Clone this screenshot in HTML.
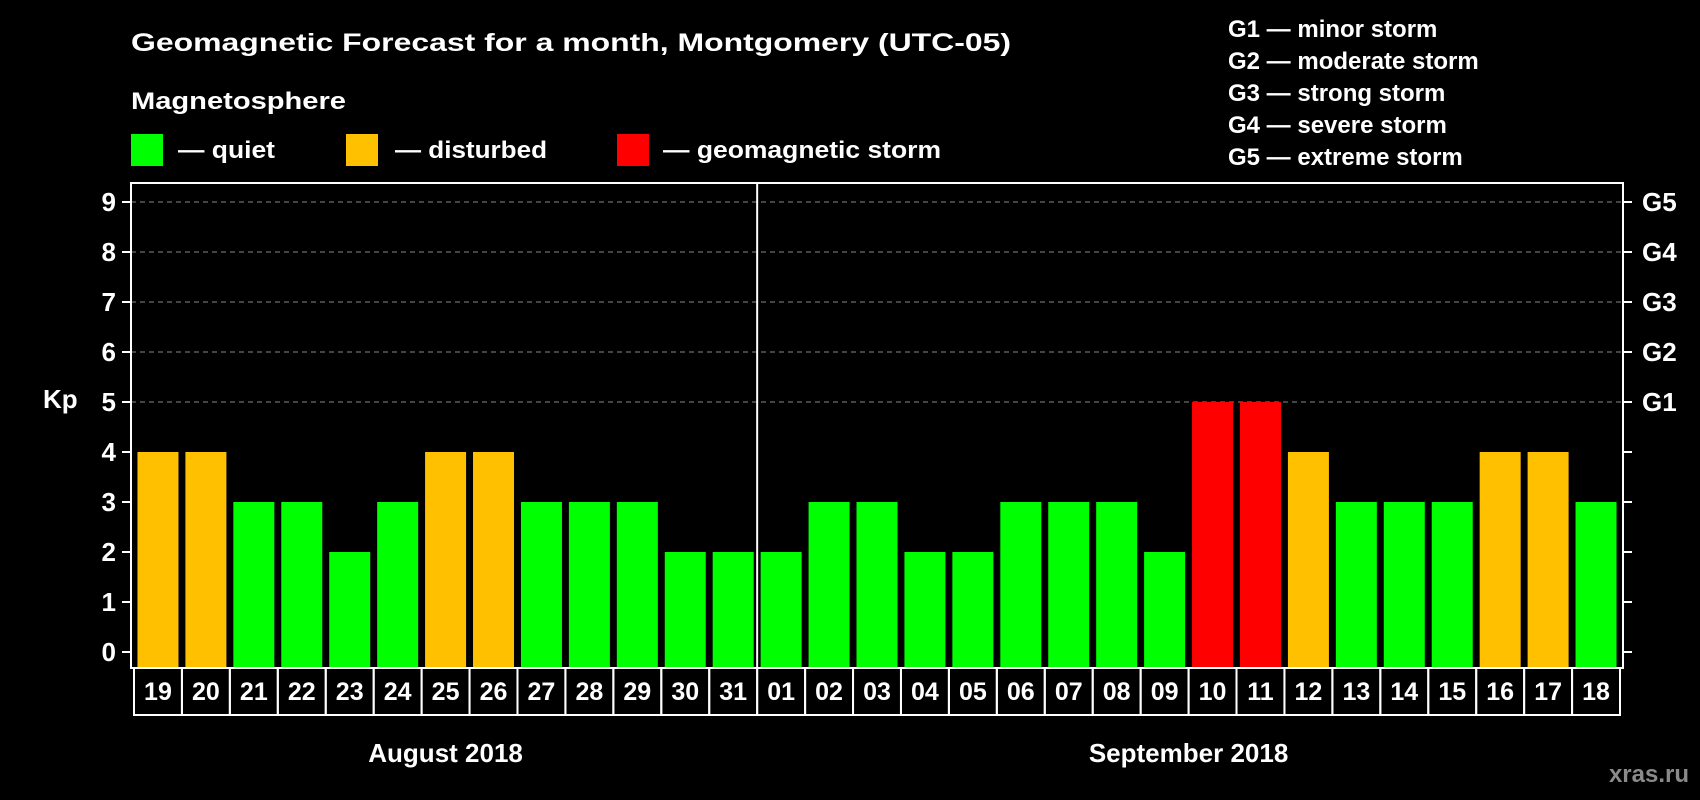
<!DOCTYPE html>
<html><head><meta charset="utf-8"><style>
html,body{margin:0;padding:0;background:#000;}
svg{display:block;font-family:"Liberation Sans",Arial,sans-serif;font-weight:bold;}
</style></head><body>
<svg id="chart" width="1700" height="800" viewBox="0 0 1700 800">
<rect x="0" y="0" width="1700" height="800" fill="#000"/>
<text x="131" y="51" font-size="25" fill="#fff" textLength="880" lengthAdjust="spacingAndGlyphs">Geomagnetic Forecast for a month, Montgomery (UTC-05)</text>
<g font-size="24" fill="#fff">
<text x="1228" y="37">G1 — minor storm</text>
<text x="1228" y="69">G2 — moderate storm</text>
<text x="1228" y="101">G3 — strong storm</text>
<text x="1228" y="133">G4 — severe storm</text>
<text x="1228" y="165">G5 — extreme storm</text>
</g>
<text x="131" y="109" font-size="24" fill="#fff" textLength="215" lengthAdjust="spacingAndGlyphs">Magnetosphere</text>
<g font-size="24" fill="#fff">
<rect x="131" y="134" width="32" height="32" fill="#00ff00"/>
<text x="178" y="158" textLength="97" lengthAdjust="spacingAndGlyphs">— quiet</text>
<rect x="346" y="134" width="32" height="32" fill="#ffc000"/>
<text x="395" y="158" textLength="152" lengthAdjust="spacingAndGlyphs">— disturbed</text>
<rect x="617" y="134" width="32" height="32" fill="#ff0000"/>
<text x="663" y="158" textLength="278" lengthAdjust="spacingAndGlyphs">— geomagnetic storm</text>
</g>
<g id="plot"></g>
<text x="1689" y="782" font-size="24" fill="#8a8a8a" text-anchor="end">xras.ru</text>
</svg>
<script>
const days = ["19","20","21","22","23","24","25","26","27","28","29","30","31","01","02","03","04","05","06","07","08","09","10","11","12","13","14","15","16","17","18"];
const kpValues = [4,4,3,3,2,3,4,4,3,3,3,2,2,2,3,3,2,2,3,3,3,2,5,5,4,3,3,3,4,4,3];
const yTicks = [0,1,2,3,4,5,6,7,8,9];
const gLabels = ["G1","G2","G3","G4","G5"];
const gLevels = [5,6,7,8,9];
const months = ["August 2018","September 2018"];
const monthDayCounts = [13,18];

const NS="http://www.w3.org/2000/svg";
const g=document.getElementById('plot');
const L=131,R=1623,T=183,B=668;
const cellX0=134, pitch=(1620-134)/31, barW=41;
const y=v=>652-50*v;
const x=i=>cellX0+i*pitch;
function mk(tag,attrs,parent){const e=document.createElementNS(NS,tag);for(const k in attrs)e.setAttribute(k,attrs[k]);(parent||g).appendChild(e);return e;}

// gridlines
gLevels.forEach(v=>{
  const ln=mk('line',{x1:L,x2:R,y1:y(v),y2:y(v),stroke:'#888','stroke-dasharray':'5,4','stroke-width':1});
  
  
});
// bars
kpValues.forEach((v,i)=>{
  const col=v>=5?'#ff0000':(v>=4?'#ffc000':'#00ff00');
  const r=mk('rect',{x:x(i)+(pitch-barW)/2,y:y(v),width:barW,height:B-y(v),fill:col});
  
  
});
// plot frame
const fr=mk('rect',{x:L,y:T,width:R-L,height:B-T,fill:'none',stroke:'#fff','stroke-width':2});


// month divider
const dv=mk('line',{x1:x(monthDayCounts[0]),x2:x(monthDayCounts[0]),y1:T,y2:B,stroke:'#fff','stroke-width':2});


// y ticks
yTicks.forEach(v=>{
  const t=mk('line',{x1:L-9,x2:L,y1:y(v),y2:y(v),stroke:'#fff','stroke-width':2});
  
  
  const t2=mk('line',{x1:R,x2:R+9,y1:y(v),y2:y(v),stroke:'#fff','stroke-width':2});
  
  
  const tx=mk('text',{x:116,y:y(v)+9,'font-size':26,fill:'#fff','text-anchor':'end'});
  tx.textContent=v;
  
  
});
gLabels.forEach((s,i)=>{
  const tx=mk('text',{x:1642,y:y(gLevels[i])+9,'font-size':26,fill:'#fff'});
  tx.textContent=s;
  
  
});
const kp=mk('text',{x:43,y:408,'font-size':26,fill:'#fff'});
kp.textContent='Kp';


// day label cells
days.forEach((d,i)=>{
  const c=mk('rect',{x:x(i),y:B,width:pitch,height:715-B,fill:'none',stroke:'#fff','stroke-width':2});
  
  
  const tx=mk('text',{x:x(i)+pitch/2,y:700,'font-size':25,fill:'#fff','text-anchor':'middle'});
  tx.textContent=d;
  
  
});
// months
let start=0;
months.forEach((m,i)=>{
  const cx=x(start)+monthDayCounts[i]*pitch/2;
  const tx=mk('text',{x:cx,y:762,'font-size':26,fill:'#fff','text-anchor':'middle'});
  tx.textContent=m;
  
  
  start+=monthDayCounts[i];
});
</script>
</body></html>
